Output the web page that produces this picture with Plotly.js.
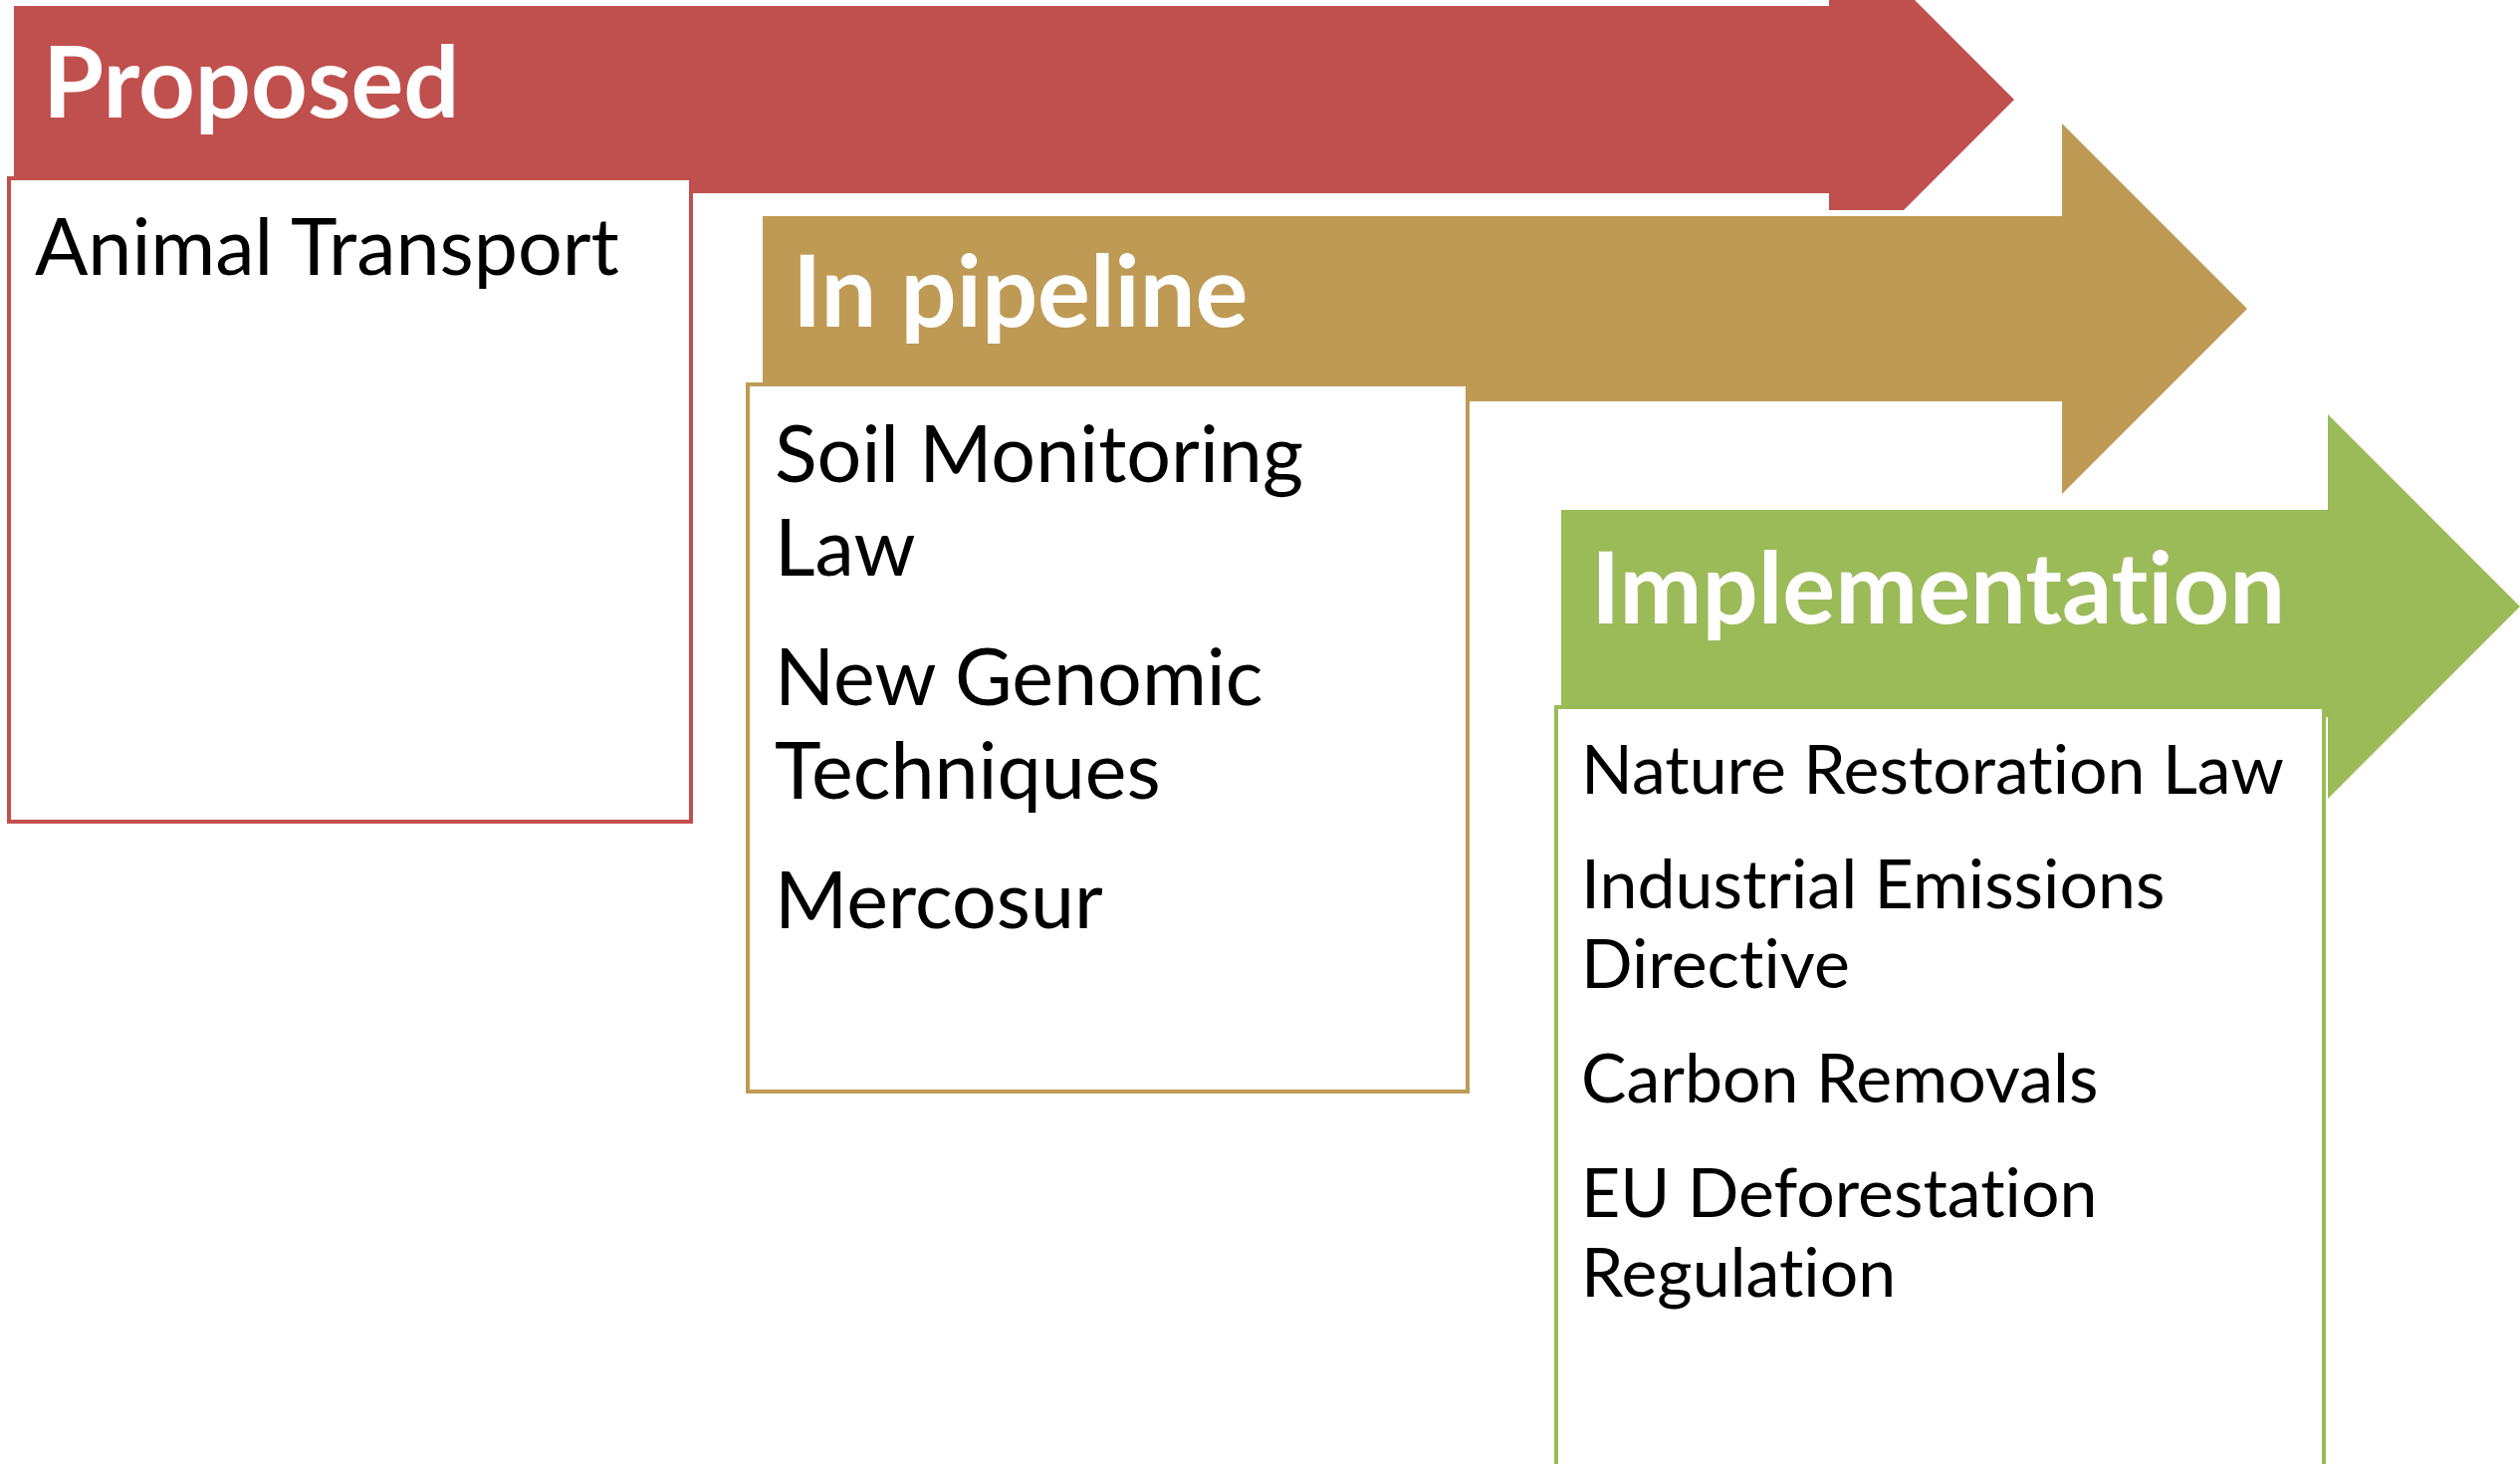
<!DOCTYPE html>
<html><head><meta charset="utf-8">
<script src="https://cdn.plot.ly/plotly-3.0.1.min.js"></script>
<style>html,body{margin:0;padding:0;background:#fff;overflow:hidden}
text{font-variant-ligatures:none !important;font-feature-settings:"liga" 0,"clig" 0 !important;}</style>
</head><body><div id="chart" style="width:2531px;height:1470px"></div>
<script>
// ---- data ----
const stages = ["Proposed", "In pipeline", "Implementation"];
const stageColors = ["#C0504D", "#BE9A55", "#9BBB59"];
const proposedItems = [["Animal Transport"]];
const pipelineItems = [["Soil Monitoring", "Law"], ["New Genomic", "Techniques"], ["Mercosur"]];
const implementationItems = [["Nature Restoration Law"], ["Industrial Emissions", "Directive"], ["Carbon Removals"], ["EU Deforestation", "Regulation"]];
const stageItems = [proposedItems, pipelineItems, implementationItems];

// ---- layout geometry (pixels, y downward) ----
const W = 2531, H = 1470;
const FONT = "Lato, 'Open Sans', sans-serif";
const geom = [
  { arrow: {x0: 14, top: 6, bot: 194, hx: 1837, half: 186, cy: 100},
    box: {x0: 9, y0: 179, x1: 694, y1: 825},
    title: {x: 41, base: 118, size: 99},
    items: {x: 33, base: 276, line: 94, step: 130, size: 79} },
  { arrow: {x0: 766, top: 217, bot: 403, hx: 2071, half: 186, cy: 310},
    box: {x0: 751, y0: 386, x1: 1474, y1: 1096},
    title: {x: 794, base: 328, size: 99},
    items: {x: 776, base: 484, line: 94, step: 130, size: 79} },
  { arrow: {x0: 1568, top: 512, bot: 720, hx: 2338, half: 193, cy: 609},
    box: {x0: 1563, y0: 710, x1: 2334, y1: 1520},
    title: {x: 1596, base: 626, size: 99},
    items: {x: 1586, base: 797, line: 80, step: 115, size: 68} }
];

function arrowPath(a) {
  const tip = a.hx + a.half;
  return `M ${a.x0},${a.top} L ${a.hx},${a.top} L ${a.hx},${a.cy - a.half} L ${tip},${a.cy} ` +
         `L ${a.hx},${a.cy + a.half} L ${a.hx},${a.bot} L ${a.x0},${a.bot} Z`;
}

const shapes = [];
const annotations = [];
const BASE_TO_MID = 0.387; // baseline -> bbox middle, in em

stages.forEach((name, i) => {
  const g = geom[i], col = stageColors[i];
  const p = arrowPath(g.arrow);
  // white halo then the arrow
  shapes.push({type: 'path', path: p, xref: 'x', yref: 'y', fillcolor: col, line: {color: '#ffffff', width: 12}});
  shapes.push({type: 'path', path: p, xref: 'x', yref: 'y', fillcolor: col, line: {width: 0}});
  // box
  shapes.push({type: 'rect', xref: 'x', yref: 'y', x0: g.box.x0, x1: g.box.x1, y0: g.box.y0, y1: g.box.y1,
               fillcolor: '#ffffff', line: {color: col, width: 4}});
  // title
  annotations.push({text: '<b>' + name + '</b>', x: g.title.x, y: g.title.base - BASE_TO_MID * g.title.size,
    xref: 'x', yref: 'y', xanchor: 'left', yanchor: 'middle', showarrow: false,
    font: {family: FONT, size: g.title.size, color: '#ffffff'}});
  // items
  let base = g.items.base;
  stageItems[i].forEach((lines, k) => {
    if (k > 0) base += g.items.step;
    lines.forEach((ln, j) => {
      if (j > 0) base += g.items.line;
      annotations.push({text: ln, x: g.items.x, y: base - BASE_TO_MID * g.items.size,
        xref: 'x', yref: 'y', xanchor: 'left', yanchor: 'middle', showarrow: false,
        font: {family: FONT, size: g.items.size, color: '#000000'}});
    });
  });
});

const layout = {
  width: W, height: H, autosize: false,
  margin: {l: 0, r: 0, t: 0, b: 0, pad: 0},
  paper_bgcolor: '#ffffff', plot_bgcolor: '#ffffff',
  xaxis: {range: [0, W], visible: false, fixedrange: true},
  yaxis: {range: [H, 0], visible: false, fixedrange: true},
  showlegend: false,
  shapes: shapes,
  annotations: annotations
};
Plotly.newPlot('chart', [], layout, {staticPlot: true, displayModeBar: false});
</script></body></html>
